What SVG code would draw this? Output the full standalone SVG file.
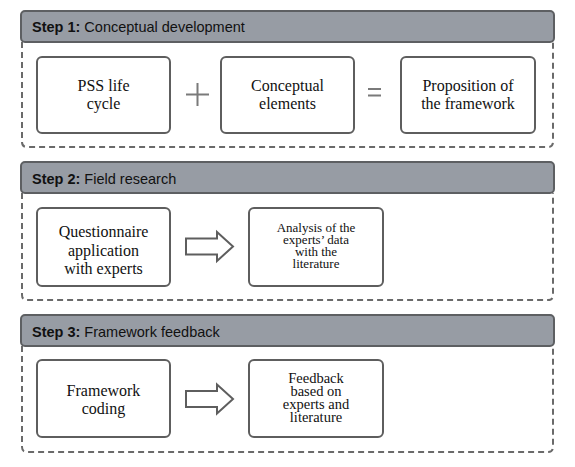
<svg xmlns="http://www.w3.org/2000/svg" width="575" height="467" viewBox="0 0 575 467">
<style>
.hdr{fill:#979ca4;stroke:#5d5f62;stroke-width:2}
.cont{fill:none;stroke:#6a6a6a;stroke-width:2;stroke-dasharray:6 4}
.box{fill:#fff;stroke:#5e5e5e;stroke-width:2}
.ht{font-family:"Liberation Sans",Arial,sans-serif;font-size:14.5px;fill:#111}
.ht .b{font-weight:bold}
.bt{font-family:"Liberation Serif","Times New Roman",serif;font-size:16px;fill:#111;text-anchor:middle}
.ft{font-family:"Liberation Serif","Times New Roman",serif;font-size:14.5px;fill:#111;text-anchor:middle}
.st{font-family:"Liberation Serif","Times New Roman",serif;font-size:13px;fill:#111;text-anchor:middle}
.op{stroke:#7a7a7a;stroke-width:2;fill:none}
.arr{fill:#fff;stroke:#5e5e5e;stroke-width:2;stroke-linejoin:miter}
</style>
<rect width="575" height="467" fill="#fff"/>

<g id="step1">
<path class="cont" d="M22 42 V142 Q22 147 27 147 H548 Q553 147 553 142 V42"/>
<rect class="hdr" x="21" y="11" width="533" height="31" rx="4"/>
<text class="ht" x="32" y="32"><tspan class="b">Step 1:</tspan> Conceptual development</text>
</g>
<g id="pss">
<rect class="box" x="37" y="57" width="133" height="76" rx="5"/>
<text class="bt" x="103.5" y="91">PSS life</text>
<text class="bt" x="103.5" y="109">cycle</text>
</g>
<g id="plus"><path class="op" d="M186 94.5 H209 M197.5 83 V106"/></g>
<g id="conceptual">
<rect class="box" x="221" y="57" width="133" height="76" rx="5"/>
<text class="bt" x="287.5" y="91">Conceptual</text>
<text class="bt" x="287.5" y="109">elements</text>
</g>
<g id="equals"><path class="op" d="M368 89 H381 M368 95.5 H381"/></g>
<g id="proposition">
<rect class="box" x="401" y="57" width="134" height="76" rx="5"/>
<text class="bt" x="468" y="91">Proposition of</text>
<text class="bt" x="468" y="109">the framework</text>
</g>

<g id="step2">
<path class="cont" d="M22 193 V295 Q22 300 27 300 H548 Q553 300 553 295 V193"/>
<rect class="hdr" x="21" y="162" width="533" height="31" rx="4"/>
<text class="ht" x="32" y="184"><tspan class="b">Step 2:</tspan> Field research</text>
</g>
<g id="questionnaire">
<rect class="box" x="37" y="208" width="133" height="78" rx="5"/>
<text class="bt" x="103.5" y="237">Questionnaire</text>
<text class="bt" x="103.5" y="255.5">application</text>
<text class="bt" x="103.5" y="274">with experts</text>
</g>
<g id="analysis">
<rect class="box" x="249" y="208" width="134" height="78" rx="5"/>
<text class="st" x="316" y="232">Analysis of the</text>
<text class="st" x="316" y="244">experts’ data</text>
<text class="st" x="316" y="256">with the</text>
<text class="st" x="316" y="268">literature</text>
</g>

<g id="step3">
<path class="cont" d="M22 346 V447 Q22 452 27 452 H548 Q553 452 553 447 V346"/>
<rect class="hdr" x="21" y="315" width="533" height="31" rx="4"/>
<text class="ht" x="32" y="337"><tspan class="b">Step 3:</tspan> Framework feedback</text>
</g>
<g id="coding">
<rect class="box" x="37" y="360" width="133" height="77" rx="5"/>
<text class="bt" x="103.5" y="396">Framework</text>
<text class="bt" x="103.5" y="414">coding</text>
</g>
<g id="feedback">
<rect class="box" x="249" y="360" width="134" height="77" rx="5"/>
<text class="ft" x="316" y="383">Feedback</text>
<text class="ft" x="316" y="396">based on</text>
<text class="ft" x="316" y="409">experts and</text>
<text class="ft" x="316" y="422">literature</text>
</g>

<g id="connectors">
<path class="arr" d="M186 238.5 H217 V232 L233 246.5 L217 261 V254.5 H186 Z"/>
<path class="arr" d="M186 391 H217 V384.5 L233 399 L217 413.5 V407 H186 Z"/>
</g>
</svg>
